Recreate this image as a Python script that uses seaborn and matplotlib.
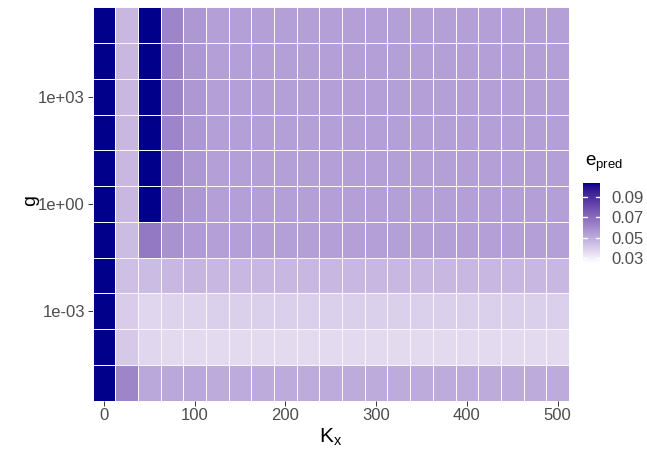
import numpy as np
import pandas as pd
import matplotlib
matplotlib.use("Agg")
import matplotlib.pyplot as plt
import seaborn as sns
from matplotlib.colors import ListedColormap

# ---------------- data ----------------
K_x = [0, 25, 50, 75, 100, 125, 150, 175, 200, 225, 250, 275, 300,
       325, 350, 375, 400, 425, 450, 475, 500]
g_exponent = [5, 4, 3, 2, 1, 0, -1, -2, -3, -4, -5]   # g = 10**exponent, top to bottom

e_g1e5 = [0.104, 0.046, 0.104, 0.062, 0.056] + [0.054] * 16
e_g1e4 = [0.104, 0.046, 0.104, 0.062, 0.056] + [0.054] * 16
e_g1e3 = [0.104, 0.046, 0.104, 0.062, 0.056] + [0.054] * 16
e_g1e2 = [0.104, 0.046, 0.104, 0.062, 0.056] + [0.054] * 16
e_g1e1 = [0.104, 0.046, 0.104, 0.062, 0.056] + [0.054] * 16
e_g1e0 = [0.104, 0.046, 0.104, 0.061, 0.056] + [0.054] * 16
e_g1em1 = [0.104, 0.045, 0.066, 0.058, 0.055] + [0.054] * 16
e_g1em2 = [0.104, 0.044, 0.045, 0.046, 0.047] + [0.046] * 16
e_g1em3 = [0.104, 0.040, 0.037, 0.038, 0.038] + [0.039] * 16
e_g1em4 = [0.104, 0.041, 0.037, 0.036, 0.036] + [0.036] * 16
e_g1em5 = [0.104, 0.062, 0.051, 0.051, 0.051] + [0.050] * 16

rows = [e_g1e5, e_g1e4, e_g1e3, e_g1e2, e_g1e1, e_g1e0,
        e_g1em1, e_g1em2, e_g1em3, e_g1em4, e_g1em5]

x_breaks = [0, 100, 200, 300, 400, 500]
y_breaks = [3, 0, -3]
y_break_labels = ["1e+03", "1e+00", "1e-03"]
legend_breaks = [0.03, 0.05, 0.07, 0.09]
e_limits = (0.025, 0.104)

df = pd.DataFrame(rows, index=[10.0 ** e for e in g_exponent], columns=K_x)

# ---------------- colour scale: white -> darkblue interpolated in CIE Lab ----------------
WHITE = np.array([0.95047, 1.0, 1.08883])
M = np.array([[0.4124, 0.3576, 0.1805],
              [0.2126, 0.7152, 0.0722],
              [0.0193, 0.1192, 0.9505]])
Minv = np.linalg.inv(M)
d = 6 / 29


def to_lab(rgb):
    c = np.asarray(rgb, float)
    lin = np.where(c <= 0.04045, c / 12.92, ((c + 0.055) / 1.055) ** 2.4)
    xyz = M @ lin / WHITE
    f = np.where(xyz > d ** 3, np.cbrt(xyz), xyz / (3 * d * d) + 4 / 29)
    return np.array([116 * f[1] - 16, 500 * (f[0] - f[1]), 200 * (f[1] - f[2])])


def from_lab(lab):
    L, a, b = lab
    fy = (L + 16) / 116
    f = np.array([fy + a / 500, fy, fy - b / 200])
    xyz = np.where(f > d, f ** 3, 3 * d * d * (f - 4 / 29)) * WHITE
    lin = np.clip(Minv @ xyz, 0, 1)
    c = np.where(lin <= 0.0031308, 12.92 * lin, 1.055 * lin ** (1 / 2.4) - 0.055)
    return np.clip(c, 0, 1)


lo = to_lab([1, 1, 1])
hi = to_lab([0x00 / 255, 0x00 / 255, 0x8B / 255])
cmap = ListedColormap([from_lab(lo + (hi - lo) * t) for t in np.linspace(0, 1, 256)])

# ---------------- figure ----------------
sns.set_style("white")
plt.rcParams["font.family"] = ["Liberation Sans", "DejaVu Sans"]
plt.rcParams["mathtext.fontset"] = "custom"
plt.rcParams["mathtext.rm"] = "Liberation Sans"

fig = plt.figure(figsize=(6.47, 4.49), dpi=100)
ax = fig.add_axes([92.5 / 647, 1 - 400.7 / 449, 476.5 / 647, 393.4 / 449])
cax = fig.add_axes([583 / 647, 1 - 263 / 449, 17 / 647, 80 / 449])

sns.heatmap(df, ax=ax, cbar_ax=cax, cmap=cmap, vmin=e_limits[0], vmax=e_limits[1],
            linewidths=0.6, linecolor="#FAF8FD", xticklabels=False, yticklabels=False)

ax.set_xticks([K_x.index(v) + 0.5 for v in x_breaks])
ax.set_xticklabels([str(v) for v in x_breaks])
ax.set_yticks([g_exponent.index(v) + 0.5 for v in y_breaks])
ax.set_yticklabels(y_break_labels)
ax.tick_params(axis="both", which="major", length=3.5, width=0.7, color="#333333",
               labelsize=12, labelcolor="#4D4D4D", pad=2, bottom=True, left=True)
for lab in ax.get_yticklabels():
    lab.set_rotation(0)
for lab in ax.get_xticklabels():
    lab.set_rotation(0)
ax.set_xlabel("")
ax.set_ylabel("")

fig.text(331 / 647, 1 - 442 / 449, r"K$_{\mathregular{x}}$", fontsize=15,
         ha="center", va="baseline", color="black")
fig.text(31 / 647, 1 - 200 / 449, "g", fontsize=14, rotation=90,
         ha="center", va="center", color="black")

# colourbar styling
cbar = ax.collections[0].colorbar
cbar.set_ticks(legend_breaks)
cbar.set_ticklabels([f"{v:.2f}" for v in legend_breaks])
cbar.outline.set_visible(False)
cax.tick_params(length=0, labelsize=12, labelcolor="#4D4D4D", pad=8)
for v in legend_breaks:
    cax.axhline(v, xmin=0, xmax=0.22, color="white", lw=1)
    cax.axhline(v, xmin=0.78, xmax=1, color="white", lw=1)

fig.text(585 / 647, 1 - 166 / 449, r"e$_{\mathregular{pred}}$", fontsize=13.5,
         ha="left", va="baseline", color="black")

fig.savefig("out.png", dpi=100)
